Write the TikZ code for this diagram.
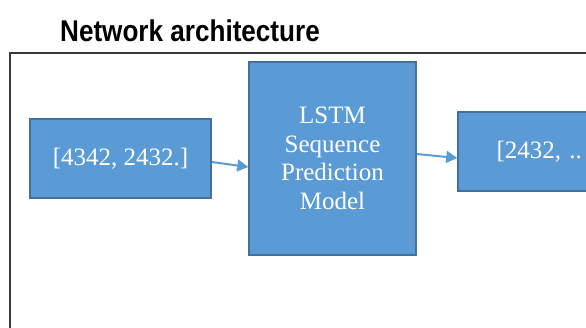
\documentclass[tikz,border=0pt]{standalone}
\usepackage{fontspec}
\setmainfont{Liberation Serif}
\newfontfamily\titlefont{Liberation Sans}
\usepackage{tikz}
\usetikzlibrary{arrows.meta,positioning}

\definecolor{boxblue}{HTML}{5B9BD5}
\definecolor{boxedge}{HTML}{41719C}
\definecolor{framegray}{HTML}{3A3A3A}

\begin{document}
\begin{tikzpicture}[>=Latex,x=1pt,y=1pt,
  blockbox/.style={draw=boxedge,fill=boxblue,line width=1.5pt,text=white,align=center,
    inner sep=0pt,font=\fontsize{25}{28.5}\selectfont},
  flow/.style={boxblue,line width=2pt,-{Triangle[length=11pt,width=12pt]}}]
  \useasboundingbox (0,0) rectangle (586,327);
  \clip (0,0) rectangle (586,327);
  % title and frame
  \node[anchor=base,inner sep=0pt] (title) at (190,285)
    {\scalebox{0.87}[1]{\titlefont\bfseries\fontsize{30}{36}\selectfont Network architecture}};
  \draw[framegray,line width=1.5pt] (10,-10) -- (10,274) -- (600,274);
  % blocks
  \node[blockbox,minimum width=181pt,minimum height=79pt] (inp) at (120.5,168.5) {[4342, 2432.]};
  \node[blockbox,minimum width=167pt,minimum height=193pt] (lstm) at (332.5,168.5)
    {LSTM\\Sequence\\Prediction\\Model};
  \node[blockbox,minimum width=181pt,minimum height=79pt,text width=104pt,align=left]
    (out) at (548.5,175.5) {[2432, ..};
  % arrows
  \draw[flow] ([yshift=-3.5pt]inp.east) -- ([yshift=-8.5pt]lstm.west);
  \draw[flow] ([yshift=4.5pt]lstm.east) -- ([yshift=-6.5pt]out.west);
\end{tikzpicture}
\end{document}
